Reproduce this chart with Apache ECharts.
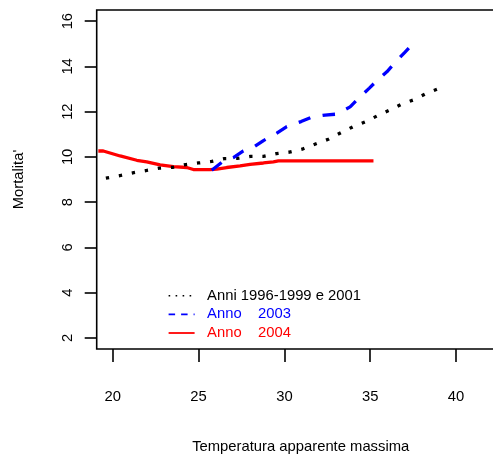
<!DOCTYPE html>
<html>
<head>
<meta charset="utf-8">
<script src="https://cdn.jsdelivr.net/npm/echarts@6/dist/echarts.min.js"></script>
<style>
  html, body { margin: 0; padding: 0; background: #fff; overflow: hidden; }
  /* the plot frame runs a little past the right edge of the window */
  #chart { width: 505px; height: 459px; }
</style>
</head>
<body>
<div id="chart"></div>
<script>
// Mortality vs. maximum apparent temperature, three periods
const xTicks = [20, 25, 30, 35, 40];
const yTicks = [2, 4, 6, 8, 10, 12, 14, 16];

const seriesNames = ['Anni 1996-1999 e 2001', 'Anno    2003', 'Anno    2004'];
const seriesColors = ['#000000', '#0000ff', '#ff0000'];

// 1996-1999 and 2001
const tempBase = [19.6, 20.47, 21.22, 21.98, 22.72, 23.5, 24.25, 24.99, 25.77, 26.5, 27.24, 28.02, 28.78,
  29.53, 30.29, 31.03, 31.81, 32.56, 33.3, 33.99, 34.74, 35.48, 36.22, 36.8, 37.56, 38.32, 39.07, 39.3];
const mortBase = [9.06, 9.18, 9.3, 9.4, 9.5, 9.54, 9.66, 9.73, 9.8, 9.92, 9.93, 10.02, 10.02,
  10.14, 10.21, 10.34, 10.57, 10.78, 11.07, 11.33, 11.56, 11.84, 12.1, 12.32, 12.53, 12.82, 13.04, 13.1];

// 2003
const temp2003 = [25.77, 26.45, 27.03, 27.61, 28.29, 28.78, 29.56, 30.14, 30.97, 31.6, 32.37, 33.05,
  33.83, 34.31, 34.95, 35.34, 35.97, 36.45, 37.03, 37.28];
const mort2003 = [9.41, 9.82, 9.97, 10.26, 10.47, 10.72, 11.05, 11.34, 11.56, 11.76, 11.85, 11.89,
  12.21, 12.58, 13.04, 13.33, 13.76, 14.17, 14.63, 14.83];

// 2004
const temp2004 = [19.16, 19.45, 20.43, 21.4, 21.98, 22.76, 23.53, 24.31, 24.7, 25.67, 26.06, 26.64,
  27.42, 28.0, 28.78, 29.36, 29.65, 35.19];
const mort2004 = [10.26, 10.26, 10.04, 9.85, 9.78, 9.65, 9.57, 9.53, 9.44, 9.44, 9.46, 9.53,
  9.6, 9.67, 9.73, 9.78, 9.82, 9.82];

const pairs = (xs, ys) => xs.map((x, i) => [x, ys[i]]);

const FONT = "'Liberation Sans', Arial, sans-serif";
const FS = 14.8;

const chart = echarts.init(document.getElementById('chart'), null, { renderer: 'canvas' });

chart.setOption({
  animation: false,
  backgroundColor: '#ffffff',
  textStyle: { fontFamily: FONT },
  grid: {
    left: 96.7, top: 10, right: 0.3, bottom: 105,
    show: true, borderColor: '#000', borderWidth: 1.6, backgroundColor: 'transparent'
  },
  xAxis: {
    type: 'value',
    min: 19.066, max: 42.835,
    name: 'Temperatura apparente massima',
    nameLocation: 'middle', nameGap: 90,
    nameTextStyle: { fontFamily: FONT, fontSize: FS, color: '#000' },
    axisLine: { show: false },
    axisTick: { show: true, length: 13, customValues: xTicks, lineStyle: { color: '#000', width: 1.6 } },
    axisLabel: { customValues: xTicks, margin: 40, fontFamily: FONT, fontSize: FS, color: '#000' },
    splitLine: { show: false }
  },
  yAxis: {
    type: 'value',
    min: 1.508, max: 16.492,
    name: "Mortalita'",
    nameLocation: 'middle', nameGap: 70, nameRotate: 90,
    nameTextStyle: { fontFamily: FONT, fontSize: FS, color: '#000' },
    axisLine: { show: false },
    axisTick: { show: true, length: 12, customValues: yTicks, lineStyle: { color: '#000', width: 1.6 } },
    axisLabel: { customValues: yTicks, rotate: 90, margin: 21, fontFamily: FONT, fontSize: FS, color: '#000' },
    splitLine: { show: false }
  },
  legend: {
    left: 167.7, top: 286.5, orient: 'vertical',
    padding: 0, itemGap: 0, itemWidth: 26, itemHeight: 18.6,
    itemStyle: { color: 'transparent', borderWidth: 0, opacity: 0 },
    textStyle: { fontFamily: FONT, fontSize: FS, lineHeight: 18.6, padding: [0, 0, 0, 7.5] },
    data: [
      { name: seriesNames[0], textStyle: { color: '#000' },
        lineStyle: { width: 1.6, type: [1.6, 5.4], cap: 'butt' } },
      { name: seriesNames[1], textStyle: { color: '#0000ff' },
        lineStyle: { width: 1.8, type: [6.5, 6], cap: 'butt' } },
      { name: seriesNames[2], textStyle: { color: '#ff0000' },
        lineStyle: { width: 1.8, type: 'solid' } }
    ]
  },
  series: [
    {
      name: seriesNames[0], type: 'line', data: pairs(tempBase, mortBase),
      symbol: 'none', showSymbol: false, smooth: false,
      color: seriesColors[0],
      lineStyle: { color: seriesColors[0], width: 3.3, type: [3.3, 9.9], cap: 'butt' },
      z: 3
    },
    {
      name: seriesNames[1], type: 'line', data: pairs(temp2003, mort2003),
      symbol: 'none', showSymbol: false, smooth: false,
      color: seriesColors[1],
      lineStyle: { color: seriesColors[1], width: 3.3, type: [12.5, 12.5], cap: 'butt' },
      z: 4
    },
    {
      name: seriesNames[2], type: 'line', data: pairs(temp2004, mort2004),
      symbol: 'none', showSymbol: false, smooth: false,
      color: seriesColors[2],
      lineStyle: { color: seriesColors[2], width: 3.3, type: 'solid' },
      z: 2
    }
  ]
});
</script>
</body>
</html>
